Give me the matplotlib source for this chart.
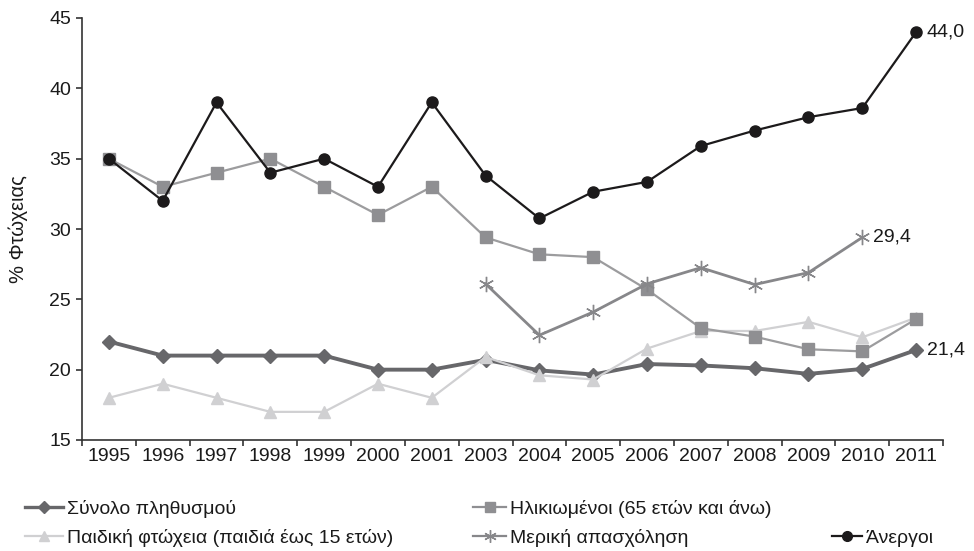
import numpy as np
import matplotlib
matplotlib.use("Agg")
import matplotlib.pyplot as plt
from matplotlib.lines import Line2D

plt.rcParams['font.family'] = ['Liberation Sans', 'DejaVu Sans']

years = ["1995", "1996", "1997", "1998", "1999", "2000", "2001", "2003",
         "2004", "2005", "2006", "2007", "2008", "2009", "2010", "2011"]

synolo = [22, 21, 21, 21, 21, 20, 20, 20.7, 19.95, 19.65, 20.4, 20.3, 20.1, 19.7, 20.05, 21.4]
ilikiomenoi = [35, 33, 34, 35, 33, 31, 33, 29.4, 28.2, 28.0, 25.7, 22.95, 22.35, 21.45, 21.3, 23.6]
paidiki = [18, 19, 18, 17, 17, 19, 18, 20.9, 19.6, 19.3, 21.5, 22.75, 22.75, 23.4, 22.3, 23.7]
merikh = [np.nan] * 7 + [26.1, 22.45, 24.1, 26.1, 27.25, 26.05, 26.9, 29.4, np.nan]
anergoi = [35, 32, 39, 34, 35, 33, 39, 33.8, 30.75, 32.65, 33.35, 35.9, 37.0, 37.95, 38.6, 44.0]

labels = ["Σύνολο πληθυσμού", "Ηλικιωμένοι (65 ετών και άνω)",
          "Παιδική φτώχεια (παιδιά έως 15 ετών)", "Μερική απασχόληση", "Άνεργοι"]

fig = plt.figure(figsize=(9.74, 5.51), dpi=100)
ax = fig.add_axes([82/974, 1-440/551, (943-82)/974, (440-18)/551])

x = np.arange(len(years))
c_syn = "#67676a"
c_ili = "#8f8f92"
c_ili_line = "#9c9c9e"
c_pai = "#d0d0d2"
c_mer = "#87878a"
c_ane = "#1c1a1b"

ax.plot(x, synolo, color=c_syn, lw=2.8, marker='D', ms=7.5, mfc=c_syn, mec=c_syn, zorder=3)
ax.plot(x, paidiki, color=c_pai, lw=1.6, marker='^', ms=9, mfc=c_pai, mec=c_pai, zorder=4)
ax.plot(x, ilikiomenoi, color=c_ili_line, lw=1.6, marker='s', ms=8, mfc=c_ili, mec=c_ili, zorder=5)
ax.plot(x, merikh, color=c_mer, lw=2.0, marker=(6, 2, 0), ms=11, mfc=c_mer, mec=c_mer, mew=1.0, zorder=6)
ax.plot(x, anergoi, color=c_ane, lw=1.6, marker='o', ms=8, mfc=c_ane, mec=c_ane, zorder=7)

fs = 14
ax.annotate("44,0", (x[-1], anergoi[-1]), xytext=(7.5, 0), textcoords='offset points',
            va='center', ha='left', fontsize=fs, color='#1a1a1a')
ax.annotate("29,4", (x[-2], merikh[-2]), xytext=(7.5, 0), textcoords='offset points',
            va='center', ha='left', fontsize=fs, color='#1a1a1a')
ax.annotate("21,4", (x[-1], synolo[-1]), xytext=(7.5, 0), textcoords='offset points',
            va='center', ha='left', fontsize=fs, color='#1a1a1a')

ax.set_xlim(-0.5, len(years) - 0.5)
ax.set_ylim(15, 45)
ax.set_yticks([15, 20, 25, 30, 35, 40, 45])
ax.set_xticks(x)
ax.set_xticklabels(years)
ax.set_xticks(np.arange(-0.5, len(years), 1.0), minor=True)
ax.tick_params(axis='x', which='major', length=0, labelsize=fs, pad=6, colors='#1a1a1a')
ax.tick_params(axis='x', which='minor', length=4, width=1.2, color='#333333', direction='out')
ax.tick_params(axis='y', length=4, width=1.2, color='#333333', labelsize=fs, pad=4, labelcolor='#1a1a1a')
for s in ['top', 'right']:
    ax.spines[s].set_visible(False)
for s in ['left', 'bottom']:
    ax.spines[s].set_color('#333333')
    ax.spines[s].set_linewidth(1.2)
ax.set_ylabel("% Φτώχειας", fontsize=14.5, color='#1a1a1a', labelpad=15)

def leg_handle(color, marker, ms, mew=1.0, lw=1.6):
    return Line2D([], [], color=color, lw=lw, marker=marker, ms=ms, mfc=color, mec=color, mew=mew)

items = [
    (leg_handle(c_syn, 'D', 6, lw=2.4), labels[0], 25, 509, 1.95),
    (leg_handle(c_ili, 's', 6.5), labels[1], 473, 509, 1.7),
    (leg_handle(c_pai, '^', 7), labels[2], 25, 538, 1.95),
    (leg_handle(c_mer, (6, 2, 0), 9), labels[3], 473, 538, 1.7),
    (leg_handle(c_ane, 'o', 7), labels[4], 832, 538, 1.55),
]
for h, lab, px, py, hl in items:
    fig.legend([h], [lab], loc='center left', bbox_to_anchor=(px/974, 1-py/551),
               frameon=False, fontsize=fs, handlelength=hl, handletextpad=0.2,
               borderpad=0, borderaxespad=0, labelcolor='#1a1a1a')

fig.savefig("out.png", dpi=100)
